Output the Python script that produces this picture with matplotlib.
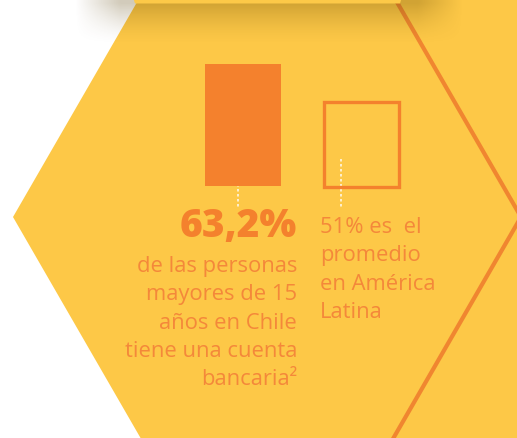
import numpy as np
import matplotlib
matplotlib.use("Agg")
import matplotlib.pyplot as plt
from matplotlib.patches import Polygon

# ---- data ----
categories = ["Chile", "América Latina"]
values = [63.2, 51.0]
headline = "63,2%"
left_lines = ["de las personas", "mayores de 15", "años en Chile", "tiene una cuenta", "bancaria²"]
right_lines = ["51% es  el", "promedio", "en América", "Latina"]

# ---- style ----
W, H = 517, 438
YELLOW = "#FDC847"
ORANGE = "#F4812D"
TEXT_OR = "#F4883A"
FONT = ["Open Sans", "DejaVu Sans"]
BASE = 23.4  # axis baseline (bars start here)

fig = plt.figure(figsize=(W / 100, H / 100), dpi=100)
fig.patch.set_facecolor("white")

bg = fig.add_axes([0, 0, 1, 1])
bg.set_xlim(0, W)
bg.set_ylim(H, 0)
bg.axis("off")

# main hexagon + adjacent region
bg.add_patch(Polygon([(13, 217), (140, -3), (530, -3), (530, 445), (144.6, 445)],
                     closed=True, facecolor=YELLOW, edgecolor="none", zorder=1))
# orange edge of the hexagon
bg.plot([394, 521, 390], [-3, 217, 444], color="#F08630", lw=3, zorder=2,
        solid_joinstyle="miter")

# shadow of the upper hexagon
ny, nx = 120, 520
yy = np.linspace(0, 60, ny)[:, None]
xx = np.linspace(0, W, nx)[None, :]
fy = np.clip(1 - (yy - 3) / 42, 0, 1) ** 1.5
fx = np.clip(1 - np.maximum(0, np.maximum(120 - xx, xx - 418)) / 45, 0, 1)
alpha = 0.27 * fy * fx
rgba = np.zeros((ny, nx, 4))
rgba[..., 0] = 0.35
rgba[..., 1] = 0.25
rgba[..., 2] = 0.0
rgba[..., 3] = alpha
bg.imshow(rgba, extent=(0, W, 60, 0), aspect="auto", zorder=3, interpolation="bilinear")
# bottom strip of the upper hexagon
bg.add_patch(Polygon([(133, -3), (402, -3), (400, 3.5), (135, 3.5)], closed=True,
                     facecolor="#FDC948", edgecolor="none", zorder=4))

# dotted leader lines
for x0 in (238, 341):
    bg.plot([x0, x0], [159, 208], color="white", lw=1.2, ls=(0, (1.5, 1.5)),
            alpha=0.85, zorder=6)

# ---- bars ----
k = 122.5 / (values[0] - BASE)          # px per unit
top_val = values[0] + 64 / k            # top of axes maps to y=0 px
axb = fig.add_axes([183.75 / W, 1 - 186.5 / H, 237 / W, 186.5 / H])
axb.set_xlim(-0.5, 1.5)
axb.set_ylim(BASE, top_val)
axb.axis("off")
axb.patch.set_alpha(0)
x = np.arange(len(categories))
heights = np.array(values) - BASE
axb.bar(x[0], heights[0], bottom=BASE, width=0.64, color=ORANGE, zorder=2)
axb.bar(x[1], heights[1], bottom=BASE, width=0.625, facecolor="none",
        edgecolor=ORANGE, linewidth=2.4, zorder=2, clip_on=False)

# ---- texts ----
bg.text(297, 237, headline, ha="right", va="baseline", fontsize=28,
        fontweight="heavy", color=ORANGE, family=FONT, zorder=7)
for i, line in enumerate(left_lines):
    bg.text(297, 272 + 28.3 * i, line, ha="right", va="baseline", fontsize=15.8,
            color=TEXT_OR, family=FONT, zorder=7)
for i, line in enumerate(right_lines):
    bg.text(320, 233 + 28.3 * i, line, ha="left", va="baseline", fontsize=15.8,
            color=TEXT_OR, family=FONT, zorder=7)

fig.savefig("out.png", dpi=100)
